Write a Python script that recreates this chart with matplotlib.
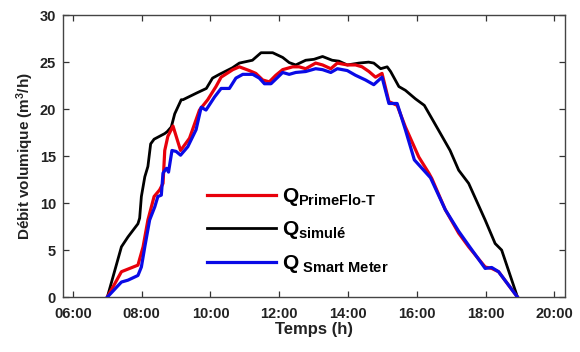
import matplotlib
matplotlib.use("Agg")
import matplotlib.pyplot as plt
from matplotlib.ticker import FuncFormatter

# ---- data (hours, m3/h) ----
t_prime = [7.0, 7.41, 7.65, 7.89, 8.04, 8.18, 8.36, 8.52, 8.62, 8.67, 8.76, 8.91, 9.13, 9.39,
           9.68, 9.92, 10.16, 10.31, 10.65, 10.84, 11.13, 11.32, 11.52, 11.71, 11.9, 12.1,
           12.39, 12.58, 12.77, 13.06, 13.26, 13.5, 13.69, 13.98, 14.22, 14.41, 14.61, 14.8,
           14.99, 15.19, 15.43, 15.67, 16.06, 16.35, 16.44, 16.83, 17.22, 17.51, 17.99, 18.18,
           18.38, 18.93]
q_prime = [0, 2.7, 3.05, 3.4, 5.35, 8.2, 10.7, 11.4, 12.1, 15.6, 17.1, 18.2, 15.6, 16.9,
           19.9, 21.0, 22.4, 23.4, 24.2, 24.5, 24.1, 23.8, 23.1, 22.9, 23.6, 24.2,
           24.5, 24.5, 24.3, 24.9, 24.7, 24.3, 24.9, 24.7, 24.7, 24.5, 24.0, 23.4,
           23.8, 20.8, 20.4, 18.1, 14.9, 13.2, 12.6, 9.3, 6.8, 5.35, 3.2, 3.05,
           2.7, 0]

t_sim = [7.0, 7.41, 7.60, 7.89, 7.94, 7.99, 8.09, 8.18, 8.26, 8.36, 8.67, 8.74, 8.86, 8.96,
         9.15, 9.2, 9.59, 9.88, 10.06, 10.26, 10.64, 10.84, 11.22, 11.47, 11.81, 12.1,
         12.29, 12.48, 12.77, 13.01, 13.26, 13.54, 13.74, 13.98, 14.32, 14.6, 14.75, 14.95,
         15.14, 15.24, 15.48, 15.67, 15.96, 16.22, 16.44, 16.69, 16.97, 17.22, 17.51, 17.99,
         18.28, 18.47, 18.93]
q_sim = [0, 5.35, 6.4, 7.8, 8.4, 10.7, 12.8, 13.9, 16.3, 16.8, 17.4, 17.6, 18.1, 19.5,
         21.0, 21.0, 21.7, 22.2, 23.3, 23.7, 24.4, 24.9, 25.2, 26.0, 26.0, 25.5,
         24.95, 24.7, 25.2, 25.3, 25.6, 25.2, 25.1, 24.7, 24.9, 25.0, 24.9, 24.3,
         24.5, 24.0, 22.4, 22.0, 21.1, 20.4, 19.0, 17.4, 15.6, 13.5, 12.1, 8.2,
         5.7, 5.0, 0]

t_smart = [7.0, 7.41, 7.6, 7.89, 7.99, 8.09, 8.23, 8.38, 8.47, 8.57, 8.62, 8.72, 8.78, 8.88,
           9.0, 9.13, 9.34, 9.58, 9.73, 9.87, 10.12, 10.31, 10.55, 10.74, 10.94, 11.23,
           11.42, 11.57, 11.76, 11.96, 12.1, 12.29, 12.48, 12.77, 13.06, 13.26, 13.5, 13.69,
           13.98, 14.22, 14.51, 14.75, 14.9, 14.99, 15.19, 15.43, 15.67, 15.93, 16.4, 16.83,
           17.22, 17.51, 17.99, 18.18, 18.38, 18.93]
q_smart = [0, 1.6, 1.8, 2.3, 3.2, 5.35, 8.2, 9.6, 10.7, 10.85, 13.2, 13.7, 13.3, 15.6,
           15.5, 15.1, 16.0, 17.8, 20.2, 19.9, 21.3, 22.2, 22.2, 23.3, 23.7, 23.7,
           23.3, 22.7, 22.7, 23.4, 23.9, 23.7, 23.9, 24.0, 24.3, 24.2, 23.9, 24.3,
           24.1, 23.6, 23.1, 22.6, 23.1, 23.4, 20.6, 20.6, 17.8, 14.6, 12.7, 9.3,
           7.0, 5.5, 3.05, 3.15, 2.7, 0]

labels = [r'$Q_{\text{PrimeFlo-T}}$', r'$Q_{\text{simulé}}$', r'$Q_{\text{ Smart Meter}}$']
x_ticks = [6, 8, 10, 12, 14, 16, 18, 20]
y_ticks = [0, 5, 10, 15, 20, 25, 30]

plt.rcParams['font.family'] = ['Liberation Sans', 'DejaVu Sans']
plt.rcParams['font.weight'] = 'bold'
plt.rcParams['mathtext.fontset'] = 'custom'
plt.rcParams['mathtext.rm'] = 'Liberation Sans:bold'
plt.rcParams['mathtext.it'] = 'Liberation Sans:bold'
plt.rcParams['mathtext.bf'] = 'Liberation Sans:bold'

fig = plt.figure(figsize=(5.8, 3.52), dpi=100)
ax = fig.add_axes([0.1086, 0.156, 0.8654, 0.801])

ax.plot(t_prime, q_prime, color='#e8000b', lw=2.3, label=labels[0], zorder=3)
ax.plot(t_sim, q_sim, color='black', lw=2.0, label=labels[1], zorder=2)
ax.plot(t_smart, q_smart, color='#0a0ae6', lw=2.3, label=labels[2], zorder=4)

ax.set_xlim(5.71, 20.31)
ax.set_ylim(0, 30)
ax.set_xticks(x_ticks)
ax.set_yticks(y_ticks)
ax.xaxis.set_major_formatter(FuncFormatter(lambda v, p: f"{int(round(v)):02d}:00"))
ax.tick_params(direction='in', top=True, right=True, length=4, width=0.9,
               labelsize=10.5, colors='#333333', labelcolor='#222222')
ax.tick_params(axis='x', pad=7)
ax.tick_params(axis='y', pad=5)
for s in ax.spines.values():
    s.set_color('#444444')
    s.set_linewidth(1.0)

ax.set_xlabel('Temps (h)', fontsize=12, fontweight='bold', labelpad=1, color='#222222')
ax.set_ylabel('Débit volumique (m$^{3}$/h)', fontsize=11, fontweight='bold', labelpad=3,
              color='#222222')

leg = ax.legend(loc='lower left', bbox_to_anchor=(0.25, 0.012), frameon=False,
                fontsize=15, handlelength=3.3, handletextpad=0.3, labelspacing=0.55)

fig.savefig('out.png', dpi=100)
